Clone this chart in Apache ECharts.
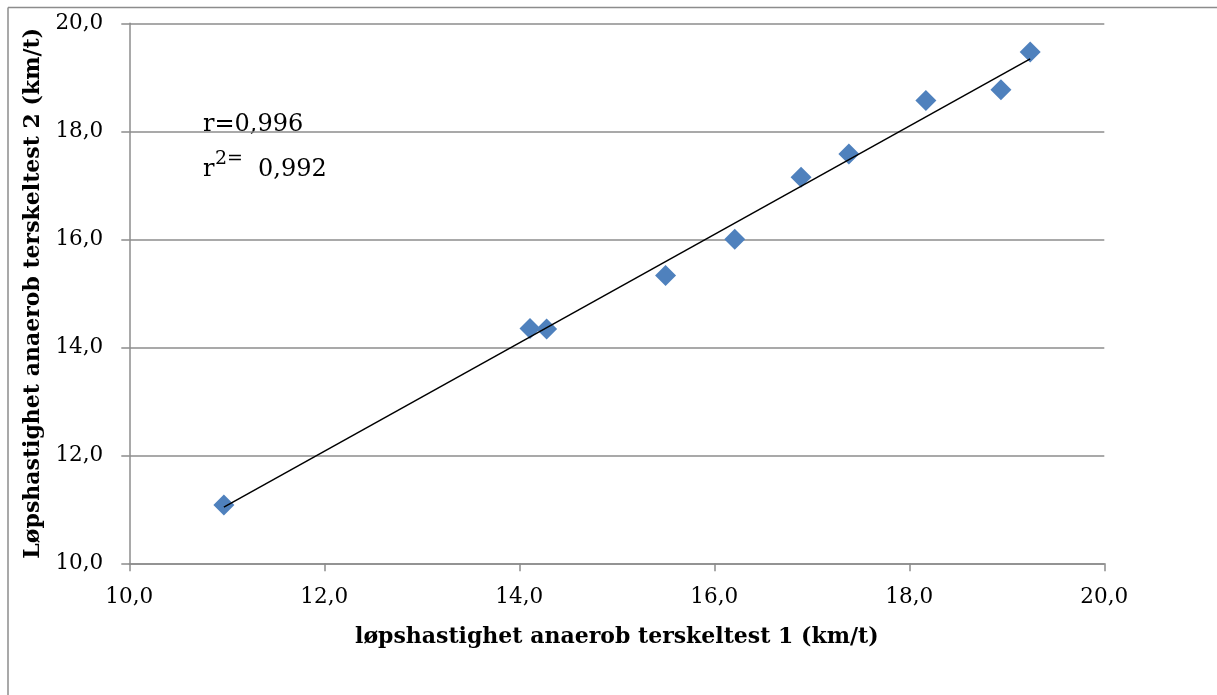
<!DOCTYPE html>
<html>
<head>
<meta charset="utf-8">
<script src="https://cdn.jsdelivr.net/npm/echarts@6/dist/echarts.min.js"></script>
<style>
html,body{margin:0;padding:0;background:#fff;overflow:hidden;}
#chart{width:1217px;height:695px;}
</style>
</head>
<body>
<div id="chart"></div>
<script>
// Data
var test1 = [10.97, 14.11, 14.28, 15.50, 16.21, 16.89, 17.38, 18.17, 18.94, 19.24];
var test2 = [11.08, 14.35, 14.34, 15.33, 16.00, 17.15, 17.58, 18.57, 18.77, 19.47];
// Trend line endpoints
var trendX = [10.97, 19.24];
var trendY = [11.04, 19.34];
var xTitle = 'løpshastighet anaerob terskeltest 1 (km/t)';
var yTitle = 'Løpshastighet anaerob terskeltest 2 (km/t)';
var rText = 'r=0,996';
var r2Label = 'r';
var r2Sup = '2=';
var r2Value = '0,992';

var points = test1.map(function (x, i) { return [x, test2[i]]; });
var trend = trendX.map(function (x, i) { return [x, trendY[i]]; });

var FONT = 'DejaVu Serif';
var grey = '#8c8c8c';
var chart = echarts.init(document.getElementById('chart'));
function fmt(v) { return v.toFixed(1).replace('.', ','); }

chart.setOption({
  animation: false,
  backgroundColor: '#fff',
  grid: { left: 129.3, right: 112.7, top: 23.3, bottom: 131.7, containLabel: false },
  xAxis: {
    type: 'value', min: 10, max: 20, interval: 2,
    axisLine: { show: true, lineStyle: { color: grey, width: 1.5 } },
    axisTick: { show: true, length: 8, lineStyle: { color: grey, width: 1.5 } },
    splitLine: { show: false },
    axisLabel: { formatter: fmt, fontFamily: FONT, fontSize: 21.5, color: '#000', margin: 23 },
    name: xTitle, nameLocation: 'middle', nameGap: 63,
    nameTextStyle: { fontFamily: FONT, fontSize: 22, fontWeight: 'bold', color: '#000' }
  },
  yAxis: {
    type: 'value', min: 10, max: 20, interval: 2,
    axisLine: { show: true, lineStyle: { color: grey, width: 1.5 } },
    axisTick: { show: true, length: 8, lineStyle: { color: grey, width: 1.5 } },
    splitLine: { show: true, lineStyle: { color: grey, width: 1.5 } },
    axisLabel: { formatter: fmt, fontFamily: FONT, fontSize: 21.5, color: '#000', margin: 26 },
    name: yTitle, nameLocation: 'middle', nameGap: 83, nameRotate: 90,
    nameTextStyle: { fontFamily: FONT, fontSize: 22, fontWeight: 'bold', color: '#000' }
  },
  graphic: [
    { type: 'line', silent: true, z: -1,
      shape: { x1: 8, y1: 7.5, x2: 8, y2: 700 },
      style: { stroke: grey, lineWidth: 1.5 } },
    { type: 'line', silent: true, z: -1,
      shape: { x1: 8, y1: 7.5, x2: 1217, y2: 7.5 },
      style: { stroke: grey, lineWidth: 1.5 } },
    { type: 'text', left: 203, top: 113, style: { text: rText, fontFamily: FONT, fontSize: 24, fill: '#000' } },
    { type: 'text', left: 203, top: 158, style: { text: r2Label, fontFamily: FONT, fontSize: 24, fill: '#000' } },
    { type: 'text', left: 215, top: 150, style: { text: r2Sup, fontFamily: FONT, fontSize: 19, fill: '#000' } },
    { type: 'text', left: 258, top: 158, style: { text: r2Value, fontFamily: FONT, fontSize: 24, fill: '#000' } }
  ],
  series: [
    {
      type: 'line', data: trend, showSymbol: false, symbol: 'none',
      lineStyle: { color: '#000', width: 1.5 }, z: 3
    },
    {
      type: 'scatter', data: points, symbol: 'diamond', symbolSize: 21,
      itemStyle: { color: '#4F81BD', opacity: 1 }, z: 2
    }
  ]
});
</script>
</body>
</html>
